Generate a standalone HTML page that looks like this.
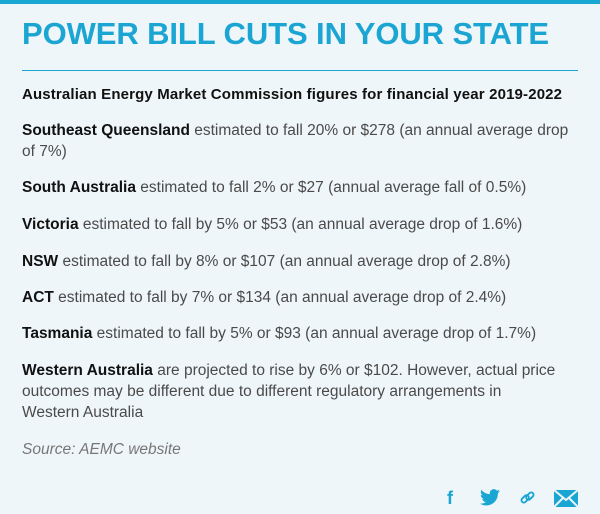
<!DOCTYPE html>
<html><head><style>
body{margin:0;width:600px;height:514px;background:#eff6f9;font-family:"Liberation Sans",sans-serif;position:relative;overflow:hidden}
.bar{position:absolute;left:0;top:0;width:600px;height:4px;background:#1aa6d3}
h1{position:absolute;left:22px;top:16px;margin:0;font-size:31px;font-weight:bold;color:#1ba5d2;letter-spacing:-0.1px;white-space:nowrap}
.rule{position:absolute;left:22px;top:70px;width:556px;height:1px;background:#1aa6d3}
p{position:absolute;left:22px;width:556px;margin:0;font-size:15.5px;line-height:21px;color:#4a4a4a}
b{color:#111}
.ic{position:absolute;top:488px;color:#1aa6d3;font-weight:bold}
</style></head><body>
<div class="bar"></div>
<h1>POWER BILL CUTS IN YOUR STATE</h1>
<div class="rule"></div>
<p style="top:84px;font-size:15px;letter-spacing:0.15px;width:600px"><b>Australian Energy Market Commission figures for financial year 2019-2022</b></p>
<p style="top:120px"><b>Southeast Queensland</b> estimated to fall 20% or $278 (an annual average drop of 7%)</p>
<p style="top:177px"><b>South Australia</b> estimated to fall 2% or $27 (annual average fall of 0.5%)</p>
<p style="top:214px"><b>Victoria</b> estimated to fall by 5% or $53 (an annual average drop of 1.6%)</p>
<p style="top:251px"><b>NSW</b> estimated to fall by 8% or $107 (an annual average drop of 2.8%)</p>
<p style="top:287px"><b>ACT</b> estimated to fall by 7% or $134 (an annual average drop of 2.4%)</p>
<p style="top:323px"><b>Tasmania</b> estimated to fall by 5% or $93 (an annual average drop of 1.7%)</p>
<p style="top:360px;width:535px"><b>Western Australia</b> are projected to rise by 6% or $102. However, actual price outcomes may be different due to different regulatory arrangements in Western Australia</p>
<p style="top:439px;font-style:italic;color:#777">Source: AEMC website</p>
<div class="ic" style="left:447px;font-size:18px;top:488px">f</div>
<svg style="position:absolute;left:480px;top:489px" width="20" height="17" viewBox="0 0 24 20"><path fill="#1aa6d3" d="M24 2.4c-.9.4-1.8.7-2.8.8 1-.6 1.8-1.600 2.200-2.7-1 .6-2 1-3.1 1.2C19.3.7 18 0 16.6 0c-2.7 0-4.9 2.2-4.9 4.9 0 .4 0 .8.1 1.1C7.7 5.8 4.1 3.9 1.7.9c-.4.7-.7 1.6-.7 2.5 0 1.7.9 3.2 2.2 4.1-.8 0-1.6-.2-2.2-.6v.1c0 2.4 1.7 4.4 3.9 4.8-.4.1-.8.2-1.3.2-.3 0-.6 0-.9-.1.6 2 2.4 3.4 4.6 3.4-1.7 1.3-3.800 2.1-6.1 2.1-.4 0-.8 0-1.2-.1 2.2 1.4 4.8 2.2 7.500 2.2 9.1 0 14-7.5 14-14v-.6c1-.7 1.8-1.6 2.5-2.5z"/></svg>
<svg style="position:absolute;left:520px;top:490px" width="15" height="15" viewBox="0 0 16 16"><g fill="none" stroke="#1aa6d3" stroke-width="2"><rect x="1" y="7" width="9" height="5" rx="2.5" transform="rotate(-45 5.5 9.5)"/><rect x="6" y="4" width="9" height="5" rx="2.5" transform="rotate(-45 10.5 6.5)"/></g></svg>
<svg style="position:absolute;left:554px;top:490px" width="24" height="17" viewBox="0 0 24 17"><rect width="24" height="17" fill="#1aa6d3"/><path d="M0 0L12 10 24 0M0 17L9 8M24 17L15 8" stroke="#eff6f9" stroke-width="2" fill="none"/></svg>
</body></html>
